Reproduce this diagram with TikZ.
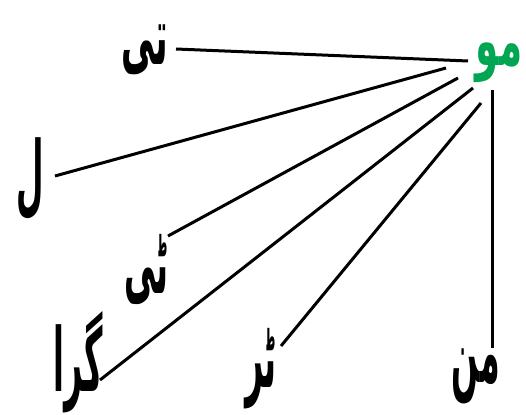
\documentclass[tikz,border=0pt]{standalone}
\usepackage{graphicx}
\usepackage{fontspec}
\newfontfamily\arabicfont[Script=Arabic]{DejaVu Sans}
\TeXXeTstate=1
\definecolor{urdugreen}{RGB}{0,166,81}
\newcommand{\urdu}[1]{\scalebox{0.72}[2.0]{\beginR #1\endR}}
\begin{document}
\begin{tikzpicture}[x=1pt,y=-1pt,
  lbl/.style={font=\fontsize{44}{44}\selectfont\arabicfont\bfseries, inner sep=0pt, text=black},
  conn/.style={line width=3pt, black}]
\useasboundingbox (0,0) rectangle (526,414);
% labels
\node[lbl, text=urdugreen] (mo) at (499,63) {\scalebox{0.85}[1.6]{\beginR مو\endR}};
\node[lbl] (ti) at (145,50) {\scalebox{0.76}[1.85]{\beginR تی\endR}};
\node[lbl] (lam) at (30,179) {\urdu{ل}};
\node[lbl] (tti) at (146,269) {\urdu{ٹی}};
\node[lbl] (gira) at (78,362) {\urdu{گرا}};
\node[lbl] (tar) at (261,369) {\urdu{ٹر}};
\node[lbl] (man) at (476,376) {\urdu{من}};
% connector ends
\coordinate (a1) at (176,49);  \coordinate (b1) at (468,61);
\coordinate (a2) at (55,176);  \coordinate (b2) at (446,68);
\coordinate (a3) at (168,236); \coordinate (b3) at (458,78);
\coordinate (a4) at (100,380); \coordinate (b4) at (473,88);
\coordinate (a5) at (281,346); \coordinate (b5) at (481,103);
\coordinate (a6) at (492,348); \coordinate (b6) at (492,90);
\draw[conn] (a1) -- (b1);
\draw[conn] (a2) -- (b2);
\draw[conn] (a3) -- (b3);
\draw[conn] (a4) -- (b4);
\draw[conn] (a5) -- (b5);
\draw[conn] (a6) -- (b6);
\end{tikzpicture}
\end{document}
